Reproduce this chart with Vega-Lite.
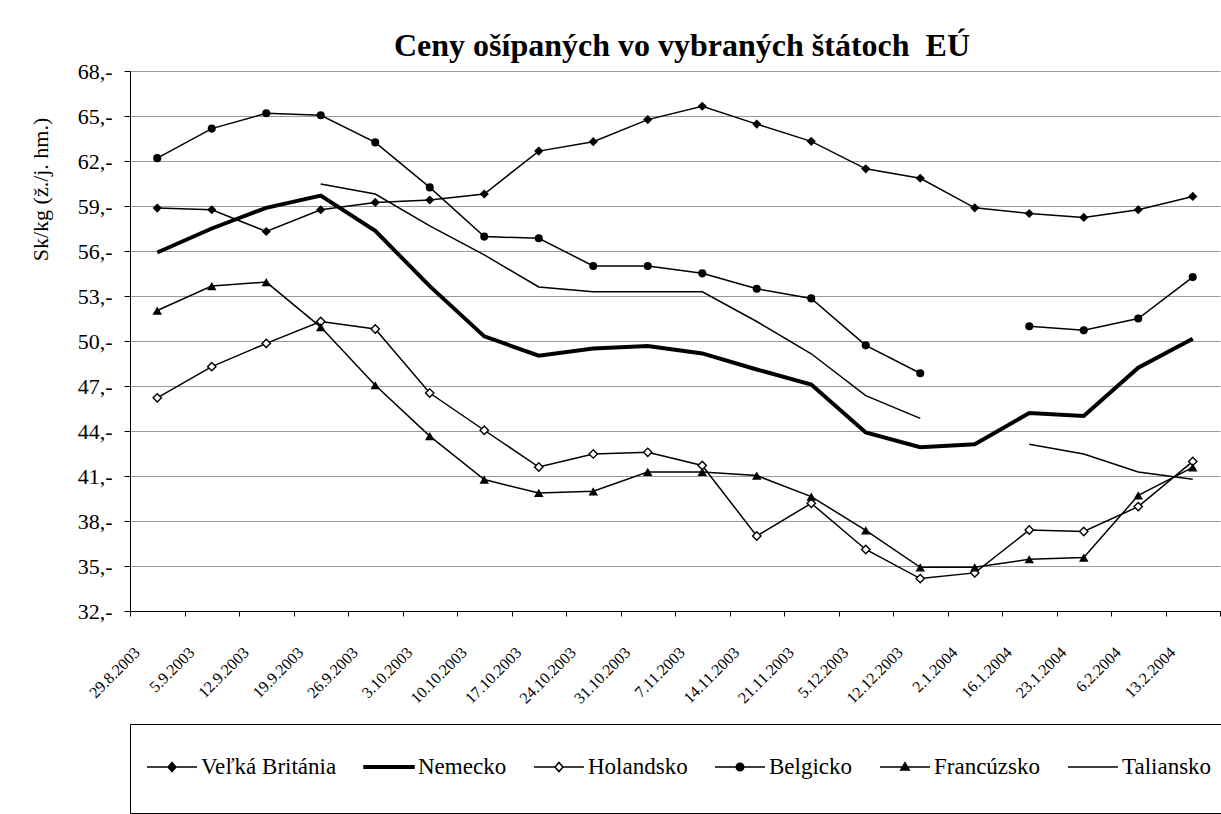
{
  "$schema": "https://vega.github.io/schema/vega-lite/v6.json",
  "width": 1090,
  "height": 540,
  "autosize": {"type": "none"},
  "padding": {"left": 130, "top": 71, "right": 1, "bottom": 203},
  "background": "white",
  "title": {
    "text": "Ceny ošípaných vo vybraných štátoch\u00a0 EÚ",
    "font": "Liberation Serif",
    "fontSize": 32,
    "fontWeight": "bold",
    "color": "black",
    "offset": -3,
    "dx": 7
  },
  "data": {
    "values": [
      {"d": "29.8.2003", "Veľká Británia": 58.86, "Nemecko": 55.9, "Holandsko": 46.21, "Belgicko": 62.19, "Francúzsko": 52.03, "Taliansko": null},
      {"d": "5.9.2003", "Veľká Británia": 58.75, "Nemecko": 57.5, "Holandsko": 48.29, "Belgicko": 64.16, "Francúzsko": 53.66, "Taliansko": null},
      {"d": "12.9.2003", "Veľká Británia": 57.3, "Nemecko": 58.88, "Holandsko": 49.84, "Belgicko": 65.18, "Francúzsko": 53.93, "Taliansko": null},
      {"d": "19.9.2003", "Veľká Británia": 58.75, "Nemecko": 59.69, "Holandsko": 51.3, "Belgicko": 65.05, "Francúzsko": 50.93, "Taliansko": 60.47},
      {"d": "26.9.2003", "Veľká Británia": 59.24, "Nemecko": 57.34, "Holandsko": 50.8, "Belgicko": 63.24, "Francúzsko": 47.05, "Taliansko": 59.8},
      {"d": "3.10.2003", "Veľká Británia": 59.4, "Nemecko": 53.66, "Holandsko": 46.53, "Belgicko": 60.24, "Francúzsko": 43.66, "Taliansko": 57.68},
      {"d": "10.10.2003", "Veľká Británia": 59.8, "Nemecko": 50.31, "Holandsko": 44.05, "Belgicko": 56.96, "Francúzsko": 40.76, "Taliansko": 55.74},
      {"d": "17.10.2003", "Veľká Británia": 62.66, "Nemecko": 49.02, "Holandsko": 41.6, "Belgicko": 56.85, "Francúzsko": 39.87, "Taliansko": 53.6},
      {"d": "24.10.2003", "Veľká Británia": 63.29, "Nemecko": 49.5, "Holandsko": 42.47, "Belgicko": 55.0, "Francúzsko": 39.98, "Taliansko": 53.28},
      {"d": "31.10.2003", "Veľká Británia": 64.76, "Nemecko": 49.67, "Holandsko": 42.58, "Belgicko": 55.0, "Francúzsko": 41.27, "Taliansko": 53.28},
      {"d": "7.11.2003", "Veľká Británia": 65.65, "Nemecko": 49.17, "Holandsko": 41.7, "Belgicko": 54.51, "Francúzsko": 41.27, "Taliansko": 53.28},
      {"d": "14.11.2003", "Veľká Británia": 64.46, "Nemecko": 48.1, "Holandsko": 37.0, "Belgicko": 53.48, "Francúzsko": 41.03, "Taliansko": 51.3},
      {"d": "21.11.2003", "Veľká Británia": 63.31, "Nemecko": 47.1, "Holandsko": 39.18, "Belgicko": 52.84, "Francúzsko": 39.63, "Taliansko": 49.15},
      {"d": "5.12.2003", "Veľká Británia": 61.48, "Nemecko": 43.9, "Holandsko": 36.1, "Belgicko": 49.71, "Francúzsko": 37.37, "Taliansko": 46.36},
      {"d": "12.12.2003", "Veľká Británia": 60.85, "Nemecko": 42.92, "Holandsko": 34.16, "Belgicko": 47.85, "Francúzsko": 34.91, "Taliansko": 44.84},
      {"d": "2.1.2004", "Veľká Británia": 58.88, "Nemecko": 43.12, "Holandsko": 34.54, "Belgicko": null, "Francúzsko": 34.91, "Taliansko": null},
      {"d": "16.1.2004", "Veľká Británia": 58.5, "Nemecko": 45.2, "Holandsko": 37.4, "Belgicko": 50.98, "Francúzsko": 35.45, "Taliansko": 43.12},
      {"d": "23.1.2004", "Veľká Británia": 58.24, "Nemecko": 45.0, "Holandsko": 37.3, "Belgicko": 50.71, "Francúzsko": 35.56, "Taliansko": 42.47},
      {"d": "6.2.2004", "Veľká Británia": 58.75, "Nemecko": 48.22, "Holandsko": 38.96, "Belgicko": 51.5, "Francúzsko": 39.71, "Taliansko": 41.27},
      {"d": "13.2.2004", "Veľká Británia": 59.64, "Nemecko": 50.15, "Holandsko": 41.97, "Belgicko": 54.26, "Francúzsko": 41.58, "Taliansko": 40.78}
    ]
  },
  "transform": [
    {"fold": ["Veľká Británia", "Nemecko", "Holandsko", "Belgicko", "Francúzsko", "Taliansko"], "as": ["s", "v"]}
  ],
  "encoding": {
    "x": {
      "field": "d",
      "type": "ordinal",
      "sort": null,
      "scale": {
        "type": "band",
        "paddingInner": 0,
        "paddingOuter": 0,
        "domain": ["29.8.2003", "5.9.2003", "12.9.2003", "19.9.2003", "26.9.2003", "3.10.2003", "10.10.2003", "17.10.2003", "24.10.2003", "31.10.2003", "7.11.2003", "14.11.2003", "21.11.2003", "5.12.2003", "12.12.2003", "2.1.2004", "16.1.2004", "23.1.2004", "6.2.2004", "13.2.2004"]
      },
      "axis": {
        "title": null,
        "grid": false,
        "tickBand": "extent",
        "ticks": true,
        "tickSize": 5,
        "tickColor": "black",
        "domainColor": "black",
        "labelAngle": -45,
        "labelAlign": "right",
        "labelBaseline": "top",
        "labelOffset": -26,
        "labelPadding": 28,
        "labelFont": "Liberation Serif",
        "labelFontSize": 16,
        "labelColor": "black",
        "labelOverlap": false,
        "labelFlush": false,
        "labelBound": false
      }
    },
    "y": {
      "field": "v",
      "type": "quantitative",
      "scale": {"domain": [32, 68], "nice": false, "zero": false},
      "axis": {
        "values": [32, 35, 38, 41, 44, 47, 50, 53, 56, 59, 62, 65, 68],
        "labelExpr": "datum.value + ',-'",
        "grid": true,
        "gridColor": "#9a9a9a",
        "gridWidth": 1,
        "tickSize": 6,
        "tickColor": "black",
        "domainColor": "black",
        "labelFont": "Liberation Serif",
        "labelFontSize": 22,
        "labelColor": "black",
        "labelPadding": 12,
        "labelFlush": false,
        "labelOverlap": false,
        "title": "Sk/kg (ž./j. hm.)",
        "titleFont": "Liberation Serif",
        "titleFontSize": 22,
        "titleFontWeight": "normal",
        "titleColor": "black",
        "titlePadding": 25,
        "titleY": 118
      }
    }
  },
  "layer": [
    {
      "transform": [{"filter": {"not": {"field": "s", "equal": "Nemecko"}}}],
      "mark": {"type": "line", "color": "black", "strokeWidth": 1.5, "invalid": "break-paths-filter-domains"},
      "encoding": {"detail": {"field": "s", "type": "nominal"}}
    },
    {
      "transform": [{"filter": {"field": "s", "equal": "Nemecko"}}],
      "mark": {"type": "line", "color": "black", "strokeWidth": 4, "invalid": "break-paths-filter-domains"},
      "encoding": {"detail": {"field": "s", "type": "nominal"}}
    },
    {
      "transform": [{"filter": {"field": "s", "equal": "Veľká Británia"}}],
      "mark": {"type": "point", "shape": "diamond", "filled": true, "color": "black", "size": 85, "opacity": 1}
    },
    {
      "transform": [{"filter": {"field": "s", "equal": "Holandsko"}}],
      "mark": {"type": "point", "shape": "diamond", "fill": "white", "stroke": "black", "strokeWidth": 1.4, "size": 70, "opacity": 1, "fillOpacity": 1}
    },
    {
      "transform": [{"filter": {"field": "s", "equal": "Belgicko"}}],
      "mark": {"type": "point", "shape": "circle", "filled": true, "color": "black", "size": 65, "opacity": 1}
    },
    {
      "transform": [{"filter": {"field": "s", "equal": "Francúzsko"}}],
      "mark": {"type": "point", "shape": "triangle-up", "filled": true, "color": "black", "size": 90, "opacity": 1}
    },
    {
      "mark": {"type": "point", "opacity": 0, "strokeWidth": 1.5},
      "encoding": {
        "shape": {
          "field": "s",
          "type": "nominal",
          "scale": {
            "domain": ["Veľká Británia", "Nemecko", "Holandsko", "Belgicko", "Francúzsko", "Taliansko"],
            "range": [
              "M0,-1.04M0,1.04M-1,0H1M0,-0.18L0.16,0L0,0.18L-0.16,0Z",
              "M0,-1.04M0,1.04M-1,-0.05H1V0.05H-1Z",
              "M0,-1.04M0,1.04M-1,0H-0.16M0.16,0H1M0,-0.18L0.16,0L0,0.18L-0.16,0Z",
              "M0,-1.04M0,1.04M-1,0H1M0.15,0A0.15,0.15,0,1,1,-0.15,0A0.15,0.15,0,1,1,0.15,0Z",
              "M0,-1.04M0,1.04M-1,0H1M0,-0.17L0.17,0.12L-0.17,0.12Z",
              "M0,-1.04M0,1.04M-1,0H1"
            ]
          },
          "legend": {
            "title": null,
            "orient": "none",
            "legendX": 0,
            "legendY": 653,
            "direction": "horizontal",
            "columns": 6,
            "symbolSize": 2500,
            "symbolStrokeWidth": 1.5,
            "symbolOpacity": 1,
            "symbolOffset": -1,
            "labelFont": "Liberation Serif",
            "labelFontSize": 23,
            "labelColor": "black",
            "labelOffset": 3,
            "labelLimit": 0,
            "columnPadding": 24,
            "padding": 17,
            "strokeColor": "black",
            "fillColor": "white"
          }
        },
        "fill": {
          "field": "s",
          "type": "nominal",
          "scale": {
            "domain": ["Veľká Británia", "Nemecko", "Holandsko", "Belgicko", "Francúzsko", "Taliansko"],
            "range": ["black", "black", "white", "black", "black", "black"]
          },
          "legend": {
            "title": null,
            "orient": "none",
            "legendX": 0,
            "legendY": 653,
            "direction": "horizontal",
            "columns": 6,
            "symbolSize": 2500,
            "symbolStrokeWidth": 1.5,
            "symbolOpacity": 1,
            "symbolOffset": -1,
            "labelFont": "Liberation Serif",
            "labelFontSize": 23,
            "labelColor": "black",
            "labelOffset": 3,
            "labelLimit": 0,
            "columnPadding": 24,
            "padding": 17,
            "strokeColor": "black",
            "fillColor": "white"
          }
        },
        "stroke": {
          "field": "s",
          "type": "nominal",
          "scale": {
            "domain": ["Veľká Británia", "Nemecko", "Holandsko", "Belgicko", "Francúzsko", "Taliansko"],
            "range": ["black", "black", "black", "black", "black", "black"]
          },
          "legend": {
            "title": null,
            "orient": "none",
            "legendX": 0,
            "legendY": 653,
            "direction": "horizontal",
            "columns": 6,
            "symbolSize": 2500,
            "symbolStrokeWidth": 1.5,
            "symbolOpacity": 1,
            "symbolOffset": -1,
            "labelFont": "Liberation Serif",
            "labelFontSize": 23,
            "labelColor": "black",
            "labelOffset": 3,
            "labelLimit": 0,
            "columnPadding": 24,
            "padding": 17,
            "strokeColor": "black",
            "fillColor": "white"
          }
        }
      }
    }
  ],
  "config": {
    "font": "Liberation Serif",
    "view": {"stroke": null}
  }
}
